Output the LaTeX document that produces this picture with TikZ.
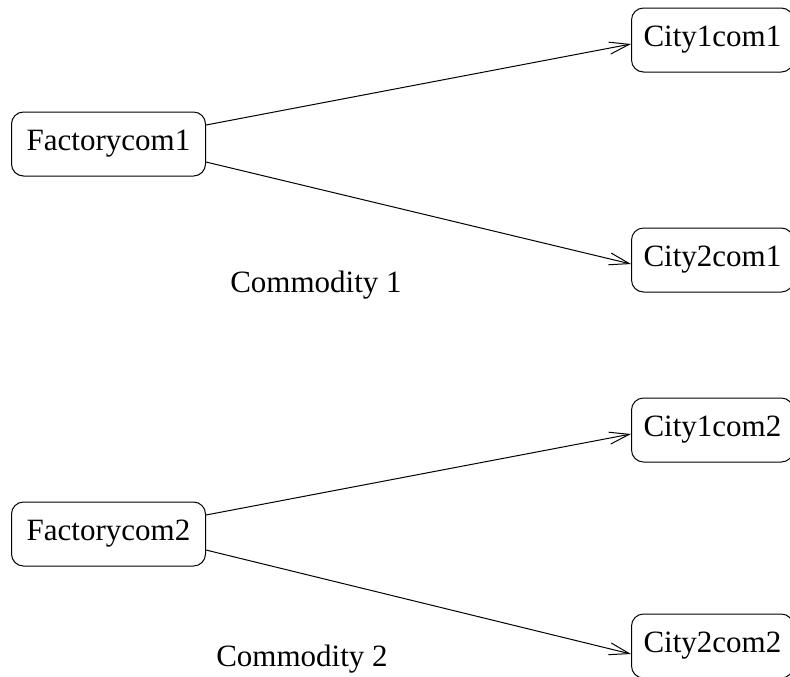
\documentclass[tikz,border=0pt]{standalone}
\usepackage{fontspec}
\setmainfont{Liberation Serif}
\usetikzlibrary{arrows.meta,calc}
\begin{document}
\begin{tikzpicture}[x=0.5pt,y=-0.5pt,
  box/.style={draw,rounded corners=6pt,line width=0.5pt,minimum height=32pt,
    inner xsep=6pt,font=\fontsize{15.5}{18}\selectfont,anchor=west},
  factory/.style={box,minimum width=97pt},
  lbl/.style={font=\fontsize{15.5}{18}\selectfont},
  flow/.style={line width=0.5pt,-{Straight Barb[length=10pt,width=6pt,line width=0.5pt]}}]
\useasboundingbox (0,0) rectangle (790,676);
% commodity 1
\node[factory] (f1) at (11,144) {Factorycom1};
\node[box] (c11) at (631,40) {City1com1};
\node[box] (c21) at (631,260) {City2com1};
\node[lbl] (l1) at (316,285) {Commodity 1};
\draw[flow] ($(f1.east)+(0,-19)$) -- ($(c11.west)+(0,4)$);
\draw[flow] ($(f1.east)+(0,18)$) -- ($(c21.west)+(0,4)$);
% commodity 2
\node[factory] (f2) at (11,534) {Factorycom2};
\node[box] (c12) at (631,430) {City1com2};
\node[box] (c22) at (631,646) {City2com2};
\node[lbl] (l2) at (302,659) {Commodity 2};
\draw[flow] ($(f2.east)+(0,-19)$) -- ($(c12.west)+(0,4)$);
\draw[flow] ($(f2.east)+(0,16)$) -- ($(c22.west)+(0,8)$);
\end{tikzpicture}
\end{document}
